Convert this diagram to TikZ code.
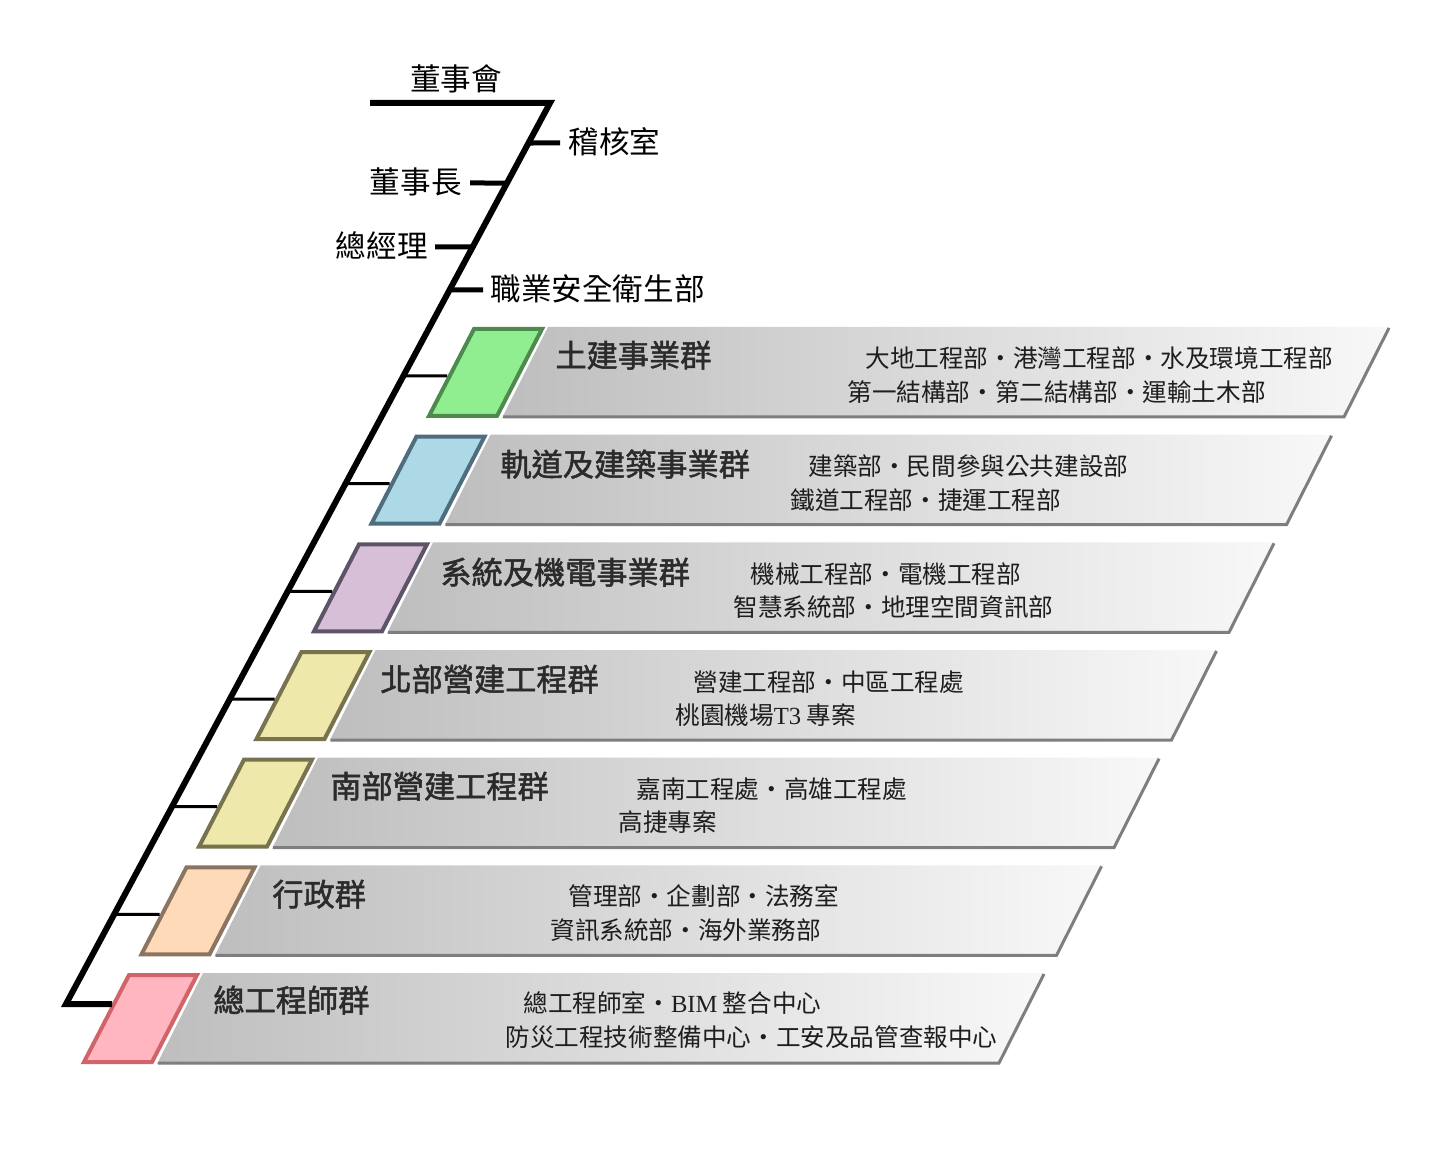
\documentclass[tikz,border=0pt]{standalone}
\usepackage{fontspec}
\newfontfamily\cjk{Noto Sans CJK TC}
\newfontfamily\cjkb[FakeBold=1.6]{Noto Sans CJK TC}
\newfontfamily\lserif{Liberation Serif}
\usetikzlibrary{calc}
\definecolor{gfill}{HTML}{90EE90}\definecolor{gbord}{HTML}{4E8A4E}
\definecolor{bfill}{HTML}{ADD8E6}\definecolor{bbord}{HTML}{4F6E7D}
\definecolor{pfill}{HTML}{D8BFD8}\definecolor{pbord}{HTML}{5E5468}
\definecolor{yfill}{HTML}{EEE8AA}\definecolor{ybord}{HTML}{77734F}
\definecolor{ofill}{HTML}{FFDAB9}\definecolor{obord}{HTML}{8B7560}
\definecolor{kfill}{HTML}{FFB6C1}\definecolor{kbord}{HTML}{D06468}
\definecolor{bandL}{HTML}{BEBEBE}\definecolor{bandM}{HTML}{D0D0D0}\definecolor{bandR}{HTML}{F8F8F8}
\definecolor{shadowgray}{HTML}{7E7E7E}
\definecolor{titlegray}{HTML}{2B2B2B}
\definecolor{subgray}{HTML}{1E1E1E}
\tikzset{
  mainline/.style={line width=3pt, line join=miter, line cap=butt},
  topbranch/.style={line width=2.5pt},
  grpbranch/.style={line width=1.5pt},
  cjktext/.style={inner sep=0pt, text height=0.88em, text depth=0.12em, yshift=-1.7pt},
  toplabel/.style={cjktext, font=\cjk\fontsize{15.3}{18}\selectfont, text=black},
  grptitle/.style={cjktext, anchor=west, font=\cjkb\fontsize{15.6}{18}\selectfont, text=titlegray},
  subtext/.style={cjktext, anchor=west, font=\cjk\fontsize{12.3}{14}\selectfont, text=subgray},
  swatch/.style 2 args={fill=#1, draw=#2, line width=2pt, line join=miter},
  bandshade/.style={left color=bandL, middle color=bandM, right color=bandR},
  bandshadow/.style={draw=shadowgray, line width=1.5pt, line join=miter}
}
\begin{document}
\begin{tikzpicture}[x=0.5pt,y=-0.5pt]
\useasboundingbox (0,0) rectangle (1440,1165);
\fill[white] (0,0) rectangle (1440,1165);

% group rows: bands, swatches
\foreach \i/\fc/\bc in {0/gfill/gbord,1/bfill/bbord,2/pfill/pbord,3/yfill/ybord,4/yfill/ybord,5/ofill/obord,6/kfill/kbord}{
  \pgfmathsetmacro\T{327+107.67*\i}
  \pgfmathsetmacro\dx{-57.5*\i}
  \shade[bandshade] (548+\dx,\T) -- (1390+\dx,\T) -- (1344+\dx,\T+91) -- (502+\dx,\T+91) -- cycle;
  \draw[bandshadow] (503+\dx,\T+90) -- (1344+\dx,\T+90) -- (1389+\dx,\T+1);
  \draw[swatch={\fc}{\bc}] (474+\dx,\T+2) -- (542+\dx,\T+2) -- (497+\dx,\T+89) -- (429+\dx,\T+89) -- cycle;
  \coordinate (sw\i) at (447+\dx,\T+49);
}

% main spine
\coordinate (tl) at (370,103);
\coordinate (tr) at (550,103);
\coordinate (bl) at (66,1004);
\coordinate (pinkjoin) at (112,1004);
\draw[mainline] (tl) -- (tr) -- (bl) -- (pinkjoin);

% group branches
\foreach \i in {0,...,5}{
  \pgfmathsetmacro\tt{0.303+0.1195*\i}
  \coordinate (m\i) at ($(tr)!\tt!(bl)$);
  \draw[grpbranch] (m\i) -- (sw\i);
}

% top labels
\node[toplabel] (board) at (456,80) {董事會};
\node[toplabel, anchor=west] (audit) at (568,143) {稽核室};
\node[toplabel, anchor=east] (chair) at (462,183) {董事長};
\node[toplabel, anchor=east] (gm) at (428,247) {總經理};
\node[toplabel, anchor=west] (safety) at (490,290) {職業安全衛生部};
\coordinate (ma) at ($(tr)!0.0444!(bl)$);
\coordinate (mc) at ($(tr)!0.0888!(bl)$);
\coordinate (mg) at ($(tr)!0.1598!(bl)$);
\coordinate (ms) at ($(tr)!0.2075!(bl)$);
\draw[topbranch] (ma) -- (560,143);
\draw[topbranch] (470,183) -- (mc);
\draw[topbranch] (435,247) -- (mg);
\draw[topbranch] (ms) -- (483,290);

% group titles
\node[grptitle] (g0) at (555,356) {土建事業群};
\node[grptitle] (g1) at (500,465) {軌道及建築事業群};
\node[grptitle] (g2) at (440,573) {系統及機電事業群};
\node[grptitle] (g3) at (380,680) {北部營建工程群};
\node[grptitle] (g4) at (330,787) {南部營建工程群};
\node[grptitle] (g5) at (272,895) {行政群};
\node[grptitle] (g6) at (213,1001) {總工程師群};

% sub texts
\node[subtext] (s0a) at (865,357) {大地工程部・港灣工程部・水及環境工程部};
\node[subtext] (s0b) at (847,391) {第一結構部・第二結構部・運輸土木部};
\node[subtext] (s1a) at (808,465) {建築部・民間參與公共建設部};
\node[subtext] (s1b) at (790,499) {鐵道工程部・捷運工程部};
\node[subtext] (s2a) at (750,573) {機械工程部・電機工程部};
\node[subtext] (s2b) at (733,606) {智慧系統部・地理空間資訊部};
\node[subtext] (s3a) at (693,680) {營建工程部・中區工程處};
\node[subtext] (s3b) at (675,713) {桃園機場{\lserif T3} 專案};
\node[subtext] (s4a) at (636,787) {嘉南工程處・高雄工程處};
\node[subtext] (s4b) at (618,820) {高捷專案};
\node[subtext] (s5a) at (568,894) {管理部・企劃部・法務室};
\node[subtext] (s5b) at (550,928) {資訊系統部・海外業務部};
\node[subtext] (s6a) at (523,1001) {總工程師室・{\lserif BIM} 整合中心};
\node[subtext] (s6b) at (505,1035) {防災工程技術整備中心・工安及品管查報中心};
\end{tikzpicture}
\end{document}
